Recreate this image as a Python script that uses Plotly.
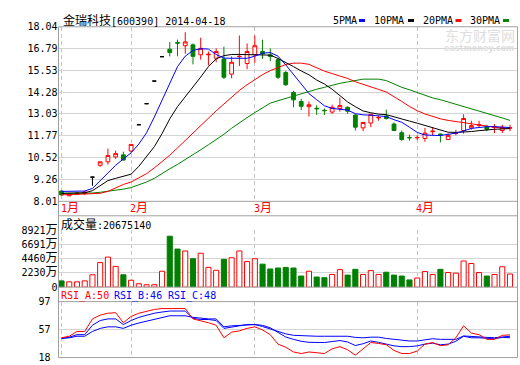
import plotly.graph_objects as go

W, H = 520, 365

# ---------------- data ----------------
days = ["01-20", "01-21", "01-22", "01-23", "01-24", "01-27", "01-28", "01-29", "01-30",
        "02-07", "02-10", "02-11", "02-12", "02-13", "02-14", "02-17", "02-18", "02-19",
        "02-20", "02-21", "02-24", "02-25", "02-26", "02-27", "02-28",
        "03-03", "03-04", "03-05", "03-06", "03-07", "03-10", "03-11", "03-12", "03-13",
        "03-14", "03-17", "03-18", "03-19", "03-20", "03-21", "03-24", "03-25", "03-26",
        "03-27", "03-28", "03-31",
        "04-01", "04-02", "04-03", "04-04", "04-08", "04-09", "04-10", "04-11", "04-14",
        "04-15", "04-16", "04-17", "04-18"]
month_pos = [0, 9, 25, 46]
month_names = ["1月", "2月", "3月", "4月"]

open_ = [8.60, 8.33, 8.42, 8.45, 9.40, 10.08, 10.28, 10.56, 10.68, 10.90,
         12.41, 13.62, 14.92, 16.32, 16.75, 17.13, 16.95, 17.00, 16.43, 16.43,
         16.23, 16.19, 15.32, 16.32, 15.93, 16.43, 16.62, 16.43, 16.15, 15.41,
         14.27, 13.75, 13.45, 13.36, 13.24, 13.14, 13.34, 13.41, 12.97, 12.23,
         12.51, 12.80, 12.91, 12.45, 11.95, 11.68, 11.66, 11.62, 12.01, 11.88,
         11.56, 11.91, 12.08, 12.23, 12.38, 12.30, 12.25, 12.08, 12.21]
high = [8.64, 8.45, 8.52, 8.62, 9.40, 10.30, 11.04, 10.92, 10.86, 11.30,
        12.41, 13.62, 14.92, 16.32, 17.17, 17.30, 17.73, 17.08, 17.41, 16.62,
        16.80, 16.89, 16.34, 17.54, 17.08, 17.54, 17.30, 16.80, 16.25, 15.50,
        14.36, 13.90, 13.75, 13.53, 13.34, 13.56, 13.97, 13.47, 13.01, 12.56,
        13.04, 12.95, 13.28, 12.54, 12.08, 11.84, 11.80, 12.23, 12.27, 11.90,
        11.90, 12.12, 13.01, 12.64, 12.64, 12.41, 12.45, 12.41, 12.41]
low = [8.34, 8.30, 8.40, 8.38, 8.90, 10.00, 10.12, 10.45, 10.36, 10.84,
       12.41, 13.62, 14.92, 16.32, 16.34, 16.34, 16.49, 15.88, 16.15, 15.82,
       16.00, 15.04, 15.08, 15.78, 15.60, 15.97, 16.19, 16.06, 15.04, 14.64,
       13.42, 13.25, 12.88, 12.97, 12.97, 13.04, 13.16, 13.04, 12.08, 12.05,
       12.27, 12.64, 12.71, 12.04, 11.49, 11.49, 11.53, 11.43, 11.80, 11.40,
       11.53, 11.80, 11.90, 12.12, 12.23, 12.04, 11.93, 11.93, 12.04]
close = [8.38, 8.42, 8.48, 8.55, 9.40, 10.28, 10.64, 10.75, 10.38, 11.28,
         12.41, 13.62, 14.92, 16.32, 16.56, 17.10, 17.17, 16.34, 16.80, 16.46,
         16.62, 15.14, 16.00, 16.34, 16.62, 16.95, 16.49, 16.34, 15.14, 14.71,
         13.84, 13.47, 13.56, 13.33, 13.22, 13.41, 13.51, 13.19, 12.27, 12.54,
         13.01, 12.83, 12.77, 12.08, 11.56, 11.66, 11.68, 11.93, 12.04, 11.84,
         11.80, 11.93, 12.77, 12.36, 12.41, 12.15, 12.28, 12.27, 12.24]

ma5 = [8.58, 8.58, 8.58, 8.60, 8.75, 9.19, 9.68, 10.08, 10.45, 10.80,
       11.30, 11.95, 12.85, 13.85, 14.85, 15.75, 16.35, 16.68, 16.78, 16.76,
       16.45, 16.24, 16.23, 16.23, 16.23, 16.35, 16.52, 16.56, 16.35, 15.85,
       15.30, 14.75, 14.20, 13.85, 13.50, 13.35, 13.30, 13.25, 13.05, 12.98,
       12.96, 12.93, 12.88, 12.70, 12.55, 12.27, 11.97, 11.82, 11.79, 11.79,
       11.86, 11.93, 12.05, 12.20, 12.25, 12.30, 12.30, 12.29, 12.25]
ma10 = [8.47, 8.47, 8.47, 8.50, 8.62, 8.90, 9.20, 9.33, 9.45, 9.57,
        10.02, 10.60, 11.15, 11.90, 12.75, 13.45, 14.00, 14.60, 15.15, 15.75,
        16.20, 16.38, 16.45, 16.45, 16.45, 16.45, 16.44, 16.41, 16.22, 16.00,
        15.75, 15.50, 15.28, 14.98, 14.75, 14.45, 14.10, 13.72, 13.45, 13.20,
        13.10, 13.02, 12.99, 12.88, 12.76, 12.62, 12.50, 12.37, 12.22, 12.09,
        11.98, 11.97, 11.98, 12.02, 12.07, 12.12, 12.15, 12.17, 12.19]
ma20 = [8.38, 8.39, 8.40, 8.41, 8.43, 8.47, 8.58, 8.78, 8.98, 9.12,
        9.34, 9.60, 9.93, 10.29, 10.66, 11.08, 11.51, 11.94, 12.37, 12.80,
        13.21, 13.60, 13.99, 14.38, 14.71, 15.02, 15.29, 15.52, 15.71, 15.87,
        15.95, 15.95, 15.88, 15.68, 15.49, 15.35, 15.21, 15.07, 14.88, 14.72,
        14.59, 14.44, 14.29, 14.04, 13.75, 13.46, 13.22, 13.03, 12.88, 12.75,
        12.66, 12.59, 12.55, 12.48, 12.38, 12.33, 12.27, 12.23, 12.19]
ma30 = [8.47, 8.47, 8.47, 8.47, 8.49, 8.53, 8.58, 8.64, 8.71, 8.80,
        8.94, 9.12, 9.33, 9.63, 9.88, 10.13, 10.40, 10.68, 10.97, 11.26,
        11.54, 11.86, 12.21, 12.54, 12.82, 13.11, 13.38, 13.65, 13.79, 13.93,
        14.07, 14.21, 14.33, 14.45, 14.56, 14.68, 14.79, 14.87, 14.97, 15.03,
        15.03, 15.03, 14.95, 14.76, 14.56, 14.42, 14.26, 14.07, 13.95, 13.85,
        13.72, 13.60, 13.49, 13.36, 13.20, 13.07, 12.93, 12.80, 12.66]

volume = [986, 834, 834, 986, 1946, 3868, 4728, 3262, 1946, 1087,
          531, 380, 380, 2503, 8014, 5992, 5689, 4475, 5335, 3110,
          2655, 4374, 4627, 5689, 4020, 4475, 3616, 2857, 3009, 3110,
          3009, 1745, 2503, 1593, 1492, 1997, 2756, 1896, 2806, 1997,
          2604, 1997, 2351, 1896, 1745, 1138, 1441, 2452, 1997, 2806,
          2301, 2200, 4121, 3717, 2301, 1745, 1997, 3211, 2068]

rsi_a = [45.9, 48.1, 54.8, 54.8, 72.6, 77.9, 80.6, 81.4, 67.2, 76.1,
         80.6, 83.7, 85.9, 87.2, 87.2, 87.2, 87.2, 72.6, 70.3, 67.2,
         63.7, 45.9, 53.9, 55.7, 59.2, 61.4, 57.0, 50.3, 37.0, 32.6,
         25.9, 23.7, 25.9, 24.6, 23.7, 30.3, 33.4, 29.0, 21.4, 30.3,
         39.2, 37.9, 36.1, 28.1, 23.7, 23.7, 27.2, 37.0, 39.2, 34.8,
         36.1, 45.9, 62.8, 52.6, 50.3, 43.7, 43.7, 49.4, 50.0]
rsi_b = [45.0, 46.8, 50.3, 50.3, 63.7, 70.3, 72.6, 72.6, 64.6, 70.3,
         74.8, 77.9, 80.6, 82.3, 83.7, 83.7, 83.7, 73.4, 71.7, 71.7,
         70.3, 59.2, 61.4, 62.8, 64.6, 64.6, 63.5, 60.0, 53.5, 47.0,
         43.7, 41.0, 39.5, 39.2, 39.2, 40.6, 42.0, 40.0, 35.0, 37.5,
         41.4, 39.5, 37.0, 34.5, 33.4, 33.4, 34.5, 37.0, 38.3, 36.1,
         37.0, 41.0, 48.1, 45.9, 45.9, 45.0, 44.5, 46.5, 46.0]
rsi_c = [45.0, 45.9, 48.1, 48.1, 54.8, 59.2, 61.4, 61.4, 59.2, 63.7,
         66.8, 69.4, 71.7, 74.8, 77.0, 77.0, 77.0, 74.8, 73.4, 72.6,
         72.6, 61.4, 62.8, 63.7, 64.6, 64.6, 61.8, 58.5, 55.5, 51.5,
         49.4, 48.8, 48.3, 48.1, 48.1, 48.1, 48.1, 48.1, 46.5, 45.9,
         46.8, 46.8, 45.0, 43.5, 42.3, 41.4, 41.4, 43.0, 44.6, 43.7,
         43.7, 43.7, 48.5, 47.5, 47.5, 46.5, 46.0, 47.5, 48.0]

price_ticks = [8.01, 9.26, 10.52, 11.77, 13.03, 14.28, 15.53, 16.79, 18.04]
vol_ticks = [0, 2230, 4460, 6691, 8921]
rsi_ticks = [18, 57, 97]

stock_name = "金瑞科技"
stock_code = "[600390]"
stock_date = "2014-04-18"
vol_label = "成交量"
vol_last = "20675140"
rsi_labels = ["RSI_A:50", "RSI_B:46", "RSI_C:48"]
ma_names = ["5PMA", "10PMA", "20PMA", "30PMA"]

# ---------------- styling ----------------
RED, GREEN, BLUE, BLACK = "#ff0000", "#008000", "#0000ff", "#000000"
FONT = "DejaVu Sans Mono, Noto Sans CJK SC, sans-serif"
BORDER = "#a0a0a0"
GRID = "#d4d4d4"
VGRID = "#c4c4c4"


def cjk(s):
    return "<span style='font-size:12px'>" + s + "</span>"


def fx(px):
    return px / W


def fy(py):
    return 1 - py / H


idx = list(range(len(days)))
flat = [o == c for o, c in zip(open_, close)]
norm = [not f for f in flat]


def pick(seq, keep):
    return [v for v, k in zip(seq, keep) if k]


fig = go.Figure()

# candles
fig.add_trace(go.Candlestick(
    x=pick(idx, norm), open=pick(open_, norm), high=pick(high, norm),
    low=pick(low, norm), close=pick(close, norm),
    increasing=dict(line=dict(color=RED, width=1), fillcolor="#ffffff"),
    decreasing=dict(line=dict(color=GREEN, width=1), fillcolor=GREEN),
    whiskerwidth=0, xaxis="x", yaxis="y", showlegend=False, hoverinfo="skip"))
fig.add_trace(go.Candlestick(
    x=pick(idx, flat), open=pick(open_, flat), high=pick(high, flat),
    low=pick(low, flat), close=pick(close, flat),
    increasing=dict(line=dict(color=BLACK, width=1), fillcolor=BLACK),
    decreasing=dict(line=dict(color=BLACK, width=1), fillcolor=BLACK),
    whiskerwidth=0, xaxis="x", yaxis="y", showlegend=False, hoverinfo="skip"))

for vals, col in [(ma30, GREEN), (ma20, RED), (ma10, BLACK), (ma5, BLUE)]:
    fig.add_trace(go.Scatter(x=idx, y=vals, mode="lines",
                             line=dict(color=col, width=1),
                             xaxis="x", yaxis="y", hoverinfo="skip"))

# volume
up = [c >= o for o, c in zip(open_, close)]
fig.add_trace(go.Bar(
    x=idx, y=volume, width=0.66,
    marker=dict(color=["#ffffff" if u else GREEN for u in up],
                line=dict(color=[RED if u else GREEN for u in up], width=1)),
    xaxis="x2", yaxis="y2", hoverinfo="skip"))

# RSI
for vals, col in [(rsi_c, BLUE), (rsi_b, BLUE), (rsi_a, RED)]:
    fig.add_trace(go.Scatter(x=idx, y=vals, mode="lines",
                             line=dict(color=col, width=1),
                             xaxis="x3", yaxis="y3", hoverinfo="skip"))

xr = [-0.39, 58.97]
xdom = [fx(58.5), fx(517.5)]


def xax(anchor, **kw):
    d = dict(domain=xdom, range=xr, anchor=anchor, tickvals=month_pos,
             showticklabels=False, showgrid=True, gridcolor=VGRID,
             griddash="4px,3px", gridwidth=1, zeroline=False,
             showline=False, ticks="", fixedrange=True)
    d.update(kw)
    return d


tick_font = dict(family=FONT, size=10, color=BLACK)

fig.update_layout(
    width=W, height=H, margin=dict(l=0, r=0, t=0, b=0),
    paper_bgcolor="white", plot_bgcolor="white", showlegend=False,
    font=dict(family=FONT, size=10, color=BLACK),
    xaxis=xax("y", rangeslider=dict(visible=False)),
    xaxis2=xax("y2"),
    xaxis3=xax("y3"),
    yaxis=dict(domain=[fy(201.5), fy(20.5)], range=[price_ticks[0], price_ticks[-1]],
               tickvals=price_ticks, ticktext=[f"{v:.2f}" for v in price_ticks],
               showgrid=True, gridcolor=GRID, zeroline=False, showline=False,
               ticks="", tickfont=tick_font, anchor="x", fixedrange=True),
    yaxis2=dict(domain=[fy(290.5), fy(231.7)], range=[0, vol_ticks[-1]],
                tickvals=vol_ticks,
                ticktext=[str(v) + (cjk("万") if v else "") for v in vol_ticks],
                showgrid=True, gridcolor=GRID, zeroline=False, showline=False,
                ticks="", tickfont=tick_font, anchor="x2", fixedrange=True),
    yaxis3=dict(domain=[fy(363.5), fy(305.5)], range=[rsi_ticks[0], rsi_ticks[-1]],
                tickvals=rsi_ticks, ticktext=[str(v) for v in rsi_ticks],
                showgrid=True, gridcolor=GRID, zeroline=False, showline=False,
                ticks="outside", ticklen=5, tickcolor="rgba(0,0,0,0)",
                tickfont=tick_font, anchor="x3", fixedrange=True),
)

# frame lines
shapes = []
for py in [20.5, 201.5, 216.5, 290.5, 305.5, 363.5]:
    shapes.append(dict(type="line", xref="paper", yref="paper",
                       x0=fx(58.5), x1=fx(517.5), y0=fy(py), y1=fy(py),
                       line=dict(color=BORDER, width=1)))
for px in [58.5, 517.5]:
    shapes.append(dict(type="line", xref="paper", yref="paper",
                       x0=fx(px), x1=fx(px), y0=fy(20.5), y1=fy(363.5),
                       line=dict(color=BORDER, width=1)))
# legend swatches
ma_cols = [BLUE, BLACK, RED, GREEN]
text_x = [331.5, 373, 421.5, 469]
sw_x = [359, 408, 455.5, 503]
for sx, col in zip(sw_x, ma_cols):
    shapes.append(dict(type="rect", xref="paper", yref="paper",
                       x0=fx(sx), x1=fx(sx + 6), y0=fy(15.5), y1=fy(12.5),
                       line=dict(width=0), fillcolor=col))
fig.update_layout(shapes=shapes)

ann = []
ann.append(dict(text=cjk(stock_name) + stock_code + " " + stock_date,
                x=fx(61), y=fy(14.3), xref="paper", yref="paper",
                xanchor="left", yanchor="middle", showarrow=False,
                font=dict(family=FONT, size=10, color=BLACK)))
for t, tx in zip(ma_names, text_x):
    ann.append(dict(text=t, x=fx(tx - 1), y=fy(14.3), xref="paper", yref="paper",
                    xanchor="left", yanchor="middle", showarrow=False,
                    font=dict(family=FONT, size=10, color=BLACK)))
# watermark
ann.append(dict(text="东方财富网", x=fx(480), y=fy(29.5), xref="paper", yref="paper",
                xanchor="center", yanchor="middle", showarrow=False, borderpad=0,
                font=dict(family="Noto Sans CJK SC", size=14, color="#dedede")))
ann.append(dict(text="<b>eastmoney.com</b>", x=fx(479), y=fy(43), xref="paper",
                yref="paper", xanchor="center", yanchor="middle", showarrow=False,
                borderpad=0,
                font=dict(family="DejaVu Sans", size=8, color="#dedede")))
# month labels
for p, m in zip(month_pos, month_names):
    ann.append(dict(text=m[:-1] + cjk(m[-1]), x=p, y=fy(208.5), xref="x", yref="paper",
                    xanchor="left", yanchor="middle", showarrow=False, xshift=-3,
                    font=dict(family=FONT, size=10, color=RED)))
# volume label
ann.append(dict(text=cjk(vol_label) + ":" + vol_last, x=fx(59), y=fy(226),
                xref="paper", yref="paper", xanchor="left", yanchor="middle",
                showarrow=False, font=dict(family=FONT, size=10, color=BLACK)))
# RSI labels
for t, tx, col in zip(rsi_labels, [59, 112, 166], [RED, BLUE, BLUE]):
    ann.append(dict(text=t, x=fx(tx), y=fy(300), xref="paper", yref="paper",
                    xanchor="left", yanchor="middle", showarrow=False,
                    font=dict(family=FONT, size=10, color=col)))
fig.update_layout(annotations=ann)

fig.write_html("out.html", config={"displayModeBar": False},
               post_script="document.body.style.margin='0';document.body.style.padding='0';")
